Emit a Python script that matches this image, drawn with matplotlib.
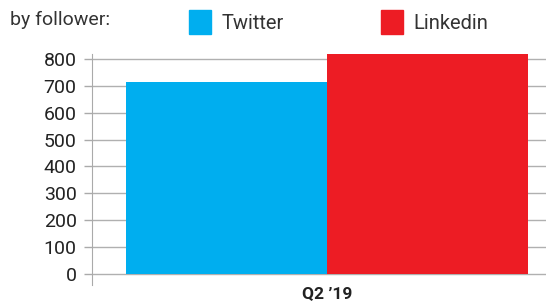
import matplotlib.pyplot as plt
from matplotlib.patches import Patch

plt.rcParams["font.family"] = ["Roboto", "DejaVu Sans"]

# data
categories = ["Q2 \u201919"]
series = ["Twitter", "Linkedin"]
values = [713, 818]
colors = ["#00AEEF", "#ED1C24"]
yticks = [0, 100, 200, 300, 400, 500, 600, 700, 800]

fig = plt.figure(figsize=(5.46, 3.04), dpi=100)
ax = fig.add_axes([92 / 546, 19 / 304, 454 / 546, 231 / 304])

offsets = [-0.5, 0.5]
for i, (name, val) in enumerate(zip(series, values)):
    ax.bar(offsets[i], val, width=1.0, color=colors[i], label=name, zorder=3)

ax.set_xlim(-1.169, 1.09)
ax.set_ylim(-41, 818)
ax.set_yticks(yticks)
ax.set_yticklabels([str(t) for t in yticks], fontsize=14, color="#222222")
ax.set_xticks([0])
ax.set_xticklabels(categories, fontsize=12.5, fontweight="bold", color="#222222")
ax.tick_params(axis="x", length=0, pad=1)
ax.tick_params(axis="y", length=6, color="#aaaaaa", width=1, pad=5)

ax.grid(axis="y", color="#b0b0b0", linewidth=1, zorder=0)
for s in ["top", "right", "bottom"]:
    ax.spines[s].set_visible(False)
ax.spines["left"].set_color("#aaaaaa")

fig.text(10 / 546, 1 - 20 / 304, "by follower:", fontsize=14, color="#333333",
         va="center", ha="left")

handles = [Patch(color=c) for c in colors]
fig.legend(handles, series, ncol=2, loc="center left",
           bbox_to_anchor=(171 / 546, 1 - 22 / 304), frameon=False,
           fontsize=14.5, handlelength=1.1, handleheight=1.5,
           handletextpad=0.5, columnspacing=4.85, labelcolor="#333333")

fig.savefig("out.png", dpi=100)
